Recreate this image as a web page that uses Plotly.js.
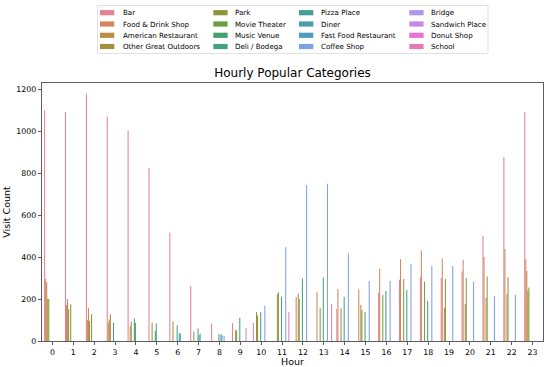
<!DOCTYPE html>
<html><head><meta charset="utf-8">
<script src="https://cdn.plot.ly/plotly-3.0.1.min.js"></script>
<style>html,body{margin:0;padding:0;background:#fff}#chart{width:550px;height:367px}</style>
</head><body><div id="chart"></div>
<script>
const hours = [0,1,2,3,4,5,6,7,8,9,10,11,12,13,14,15,16,17,18,19,20,21,22,23];
const hourLabels = hours.map(String);
const categories = ["Bar","Food & Drink Shop","American Restaurant","Other Great Outdoors",
  "Park","Movie Theater","Music Venue","Deli / Bodega",
  "Pizza Place","Diner","Fast Food Restaurant","Coffee Shop",
  "Bridge","Sandwich Place","Donut Shop","School"];
const _ = null;
//                  0    1    2    3    4    5    6    7    8    9   10   11   12   13   14   15   16   17   18   19   20   21   22   23
const bar        = [1100,1092,1180,1070,1003,825, 516, 262, 84,  85,  87,  _,   _,   _,   153, _,   230, 292, 305, 302, 331, 501, 876, 1090];
const foodDrink  = [295, 172, 100, 87,  _,   _,   _,   _,   _,   _,   _,   _,   210, 232, 248, 246, 345, 390, 432, 393, 387, 401, 439, 390];
const american   = [280, 200, 156, 103, 72,  _,   _,   _,   _,   _,   _,   _,   _,   _,   _,   _,   _,   _,   _,   _,   _,   _,   _,   334];
const outdoors   = [202, 151, 95,  127, 93,  87,  92,  45,  _,   52,  138, 223, 227, _,   _,   172, _,   _,   _,   157, 176, 205, 224, 240];
const park       = [200, _,   _,   _,   _,   _,   _,   _,   _,   50,  122, 232, 200, 159, 156, 148, 219, 295, 284, 296, 300, 307, 304, 255];
const movie      = [_,   175, 127, _,   _,   _,   _,   _,   _,   _,   _,   _,   _,   _,   _,   _,   _,   _,   _,   _,   _,   _,   _,   _];
const music      = [_,   _,   _,   87,  107, 46,  _,   _,   _,   _,   _,   _,   _,   _,   _,   _,   _,   _,   _,   _,   _,   _,   _,   _];
const deli       = [_,   _,   _,   _,   87,  84,  75,  59,  33,  111, 137, 211, 298, 303, 211, 137, 238, 243, 191, _,   _,   _,   _,   _];
const pizza      = [_,   _,   _,   _,   _,   _,   _,   27,  _,   _,   _,   _,   _,   _,   _,   _,   _,   _,   _,   _,   _,   _,   _,   _];
const diner      = [_,   _,   _,   _,   _,   _,   37,  35,  32,  _,   _,   _,   _,   _,   _,   _,   _,   _,   _,   _,   _,   _,   _,   _];
const fastFood   = [_,   _,   _,   _,   _,   _,   37,  _,   27,  _,   _,   _,   _,   _,   _,   _,   _,   _,   _,   _,   _,   _,   _,   _];
const coffee     = [_,   _,   _,   _,   _,   _,   _,   _,   _,   _,   168, 447, 744, 750, 418, 286, 286, 366, 357, 357, 282, 215, 221, _];
const bridge     = [_,   _,   _,   _,   _,   _,   _,   _,   25,  _,   _,   _,   _,   _,   _,   _,   _,   _,   _,   _,   _,   _,   _,   _];
const sandwich   = [_,   _,   _,   _,   _,   _,   _,   _,   _,   63,  _,   _,   _,   _,   _,   _,   _,   _,   _,   _,   _,   _,   _,   _];
const donut      = [_,   _,   _,   _,   _,   _,   _,   _,   _,   _,   _,   137, _,   _,   _,   _,   _,   _,   _,   _,   _,   _,   _,   _];
const school     = [_,   _,   _,   _,   _,   _,   _,   _,   _,   _,   _,   _,   _,   176, _,   _,   _,   _,   _,   _,   _,   _,   _,   _];
const yTicks = [0,200,400,600,800,1000,1200];

const seriesList = [bar,foodDrink,american,outdoors,park,movie,music,deli,pizza,diner,fastFood,coffee,bridge,sandwich,donut,school];

// husl-like base palette (16 hues) and seaborn's 0.75 saturation
const baseColors = ["#f77189","#e8814a","#ce9032","#b39b31","#97a431","#6bad31","#32b166","#34af8a",
  "#36ada4","#37aaba","#39a7d0","#6e9bf4","#a48cf4","#d378f0","#f561dd","#f66ab3"];
function desaturate(hex, prop){
  let r=parseInt(hex.slice(1,3),16)/255, g=parseInt(hex.slice(3,5),16)/255, b=parseInt(hex.slice(5,7),16)/255;
  const mx=Math.max(r,g,b), mn=Math.min(r,g,b); const l=(mx+mn)/2; let h=0,s=0;
  if(mx!==mn){const d=mx-mn; s = l>0.5 ? d/(2-mx-mn) : d/(mx+mn);
    if(mx===r) h=(g-b)/d+(g<b?6:0); else if(mx===g) h=(b-r)/d+2; else h=(r-g)/d+4; h/=6;}
  s*=prop;
  function hue2rgb(p,q,t){if(t<0)t+=1;if(t>1)t-=1;if(t<1/6)return p+(q-p)*6*t;if(t<1/2)return q;if(t<2/3)return p+(q-p)*(2/3-t)*6;return p;}
  let R,G,B; if(s===0){R=G=B=l;}else{const q=l<0.5?l*(1+s):l+s-l*s; const p=2*l-q; R=hue2rgb(p,q,h+1/3);G=hue2rgb(p,q,h);B=hue2rgb(p,q,h-1/3);}
  return 'rgb('+Math.round(R*255)+','+Math.round(G*255)+','+Math.round(B*255)+')';
}
const colors = baseColors.map(c=>desaturate(c,0.75));

const traces = categories.map((name,i)=>({
  type:'bar', name:name, x:hours, y:seriesList[i],
  marker:{color:colors[i], line:{width:0}}, showlegend:false, hoverinfo:'skip'
}));

// plot area in pixels
const L=42, R=543, T=83, B=341;
const px = v => (v-L)/(R-L);
const py = v => (B-v)/(B-T);

const shapes=[], annotations=[];
// legend frame
shapes.push({type:'rect', xref:'paper', yref:'paper', x0:px(97.5), x1:px(488), y0:py(53.5), y1:py(5.5),
  line:{color:'#d9d9d9', width:0.8}, fillcolor:'rgba(255,255,255,0.8)', layer:'above'});
const colSwatchX=[100,213.3,299,409.3], colTextX=[120.7,232.7,319,429.3], rowY=[12.7,24,35.3,46.5];
categories.forEach((name,k)=>{
  const c=Math.floor(k/4), r=k%4;
  shapes.push({type:'rect', xref:'paper', yref:'paper', x0:px(colSwatchX[c]), x1:px(colSwatchX[c]+14.3),
    y0:py(rowY[r]+2.6), y1:py(rowY[r]-2.6), line:{width:0}, fillcolor:colors[k], layer:'above'});
  annotations.push({xref:'paper', yref:'paper', x:px(colTextX[c]), y:py(rowY[r]), text:name, showarrow:false,
    xanchor:'left', yanchor:'middle', font:{family:'DejaVu Sans', size:7.1, color:'#000'}});
});

const layout = {
  width:550, height:367, margin:{l:L, r:550-R, t:T, b:367-B, pad:0},
  paper_bgcolor:'#fff', plot_bgcolor:'#fff',
  barmode:'group', bargap:0.2, bargroupgap:0,
  font:{family:'DejaVu Sans', color:'#000'},
  title:{text:'Hourly Popular Categories', x:0.5, xref:'paper', xanchor:'center', y:1-72.7/367, yref:'container', yanchor:'middle',
    font:{family:'DejaVu Sans', size:12, color:'#000'}},
  xaxis:{range:[-0.5,23.5], tickmode:'array', tickvals:hours, ticktext:hourLabels, ticks:'outside', ticklen:3.5, tickwidth:0.8,
    tickcolor:'#333', showline:true, linecolor:'#333', linewidth:0.8, mirror:true, showgrid:false, zeroline:false,
    tickfont:{family:'DejaVu Sans', size:7.8, color:'#000'},
    title:{text:'Hour', font:{family:'DejaVu Sans', size:9.5, color:'#000'}, standoff:3}},
  yaxis:{range:[0,1230], tickmode:'array', tickvals:yTicks, ticktext:yTicks.map(String), ticks:'outside', ticklen:3.5, tickwidth:0.8,
    tickcolor:'#333', showline:true, linecolor:'#333', linewidth:0.8, mirror:true, showgrid:false, zeroline:false,
    tickfont:{family:'DejaVu Sans', size:7.8, color:'#000'},
    title:{text:'Visit Count', font:{family:'DejaVu Sans', size:9.5, color:'#000'}, standoff:3}},
  shapes:shapes, annotations:annotations, showlegend:false
};
Plotly.newPlot('chart', traces, layout, {staticPlot:true, displayModeBar:false});
</script></body></html>
